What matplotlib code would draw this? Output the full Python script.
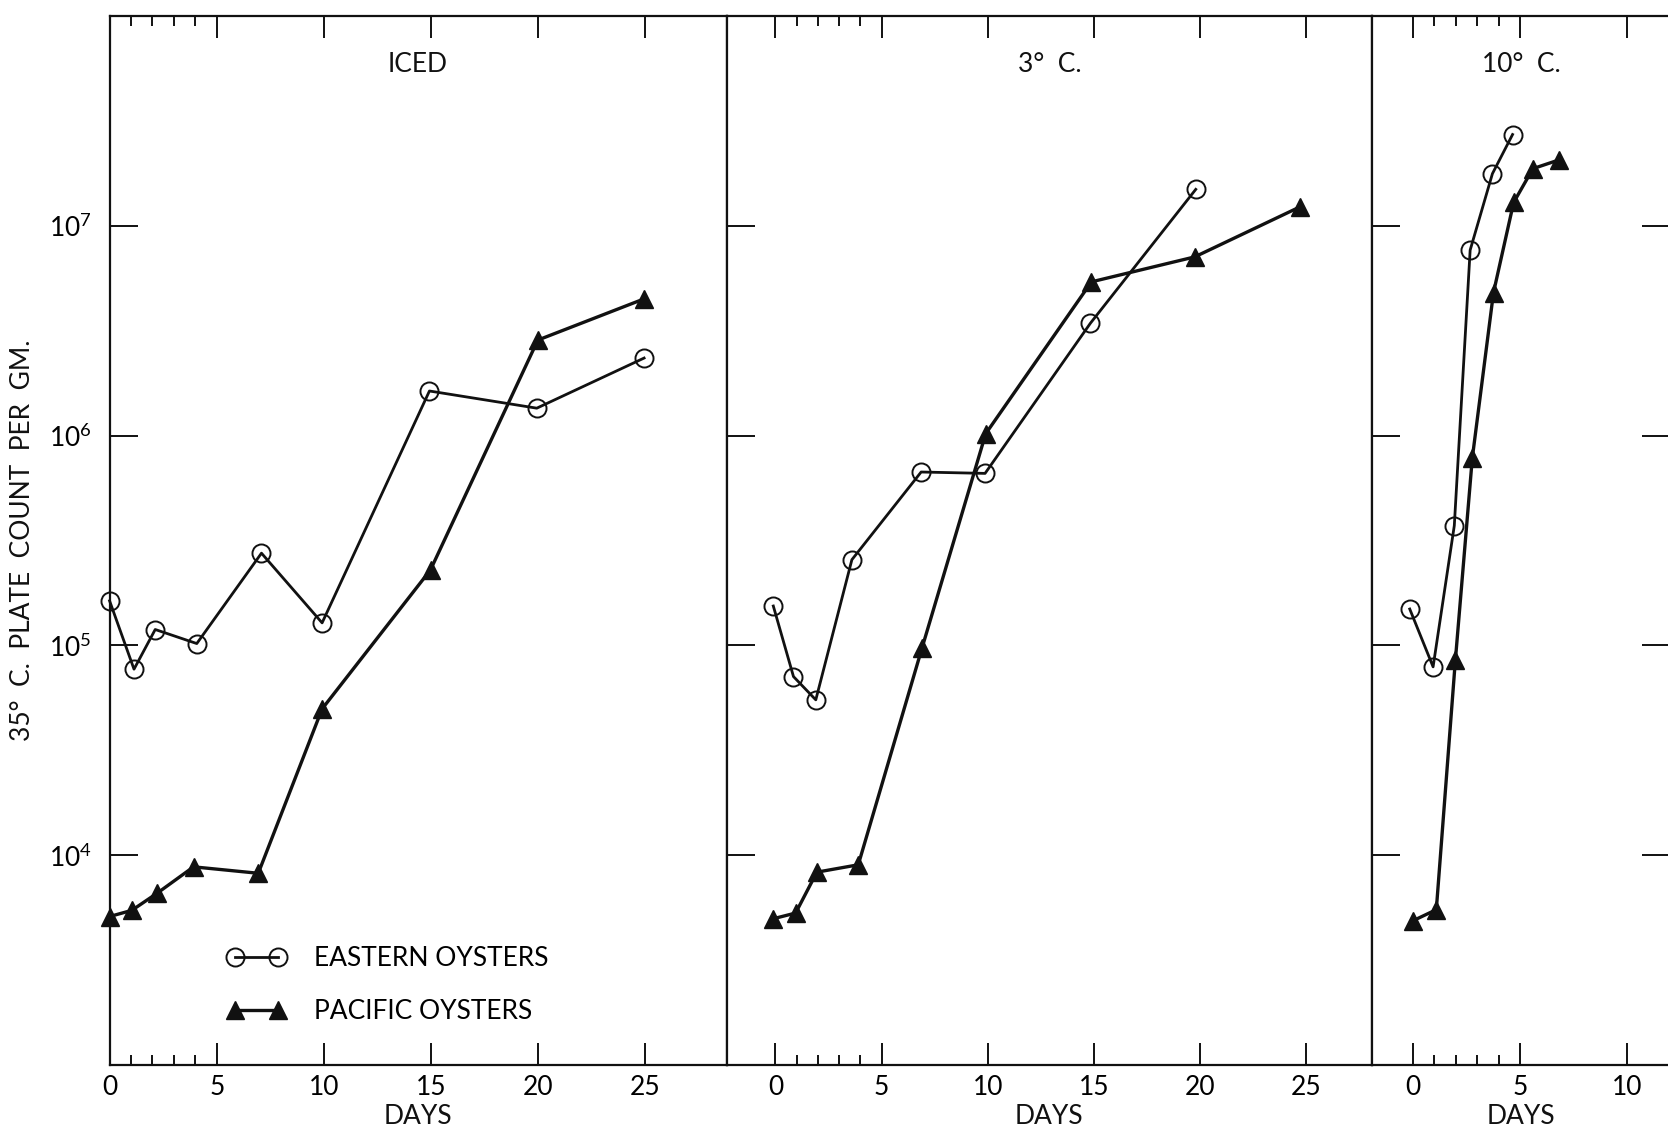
import matplotlib
matplotlib.use("Agg")
import matplotlib.pyplot as plt
from matplotlib.ticker import FixedLocator, FixedFormatter, NullLocator

plt.rcParams['font.family'] = ['Lato', 'DejaVu Sans']
plt.rcParams['mathtext.fontset'] = 'custom'
plt.rcParams['mathtext.rm'] = 'Lato'

# ICED
iced_east_days = [0, 1.14, 2.13, 4.07, 7.09, 9.92, 14.93, 19.94, 24.95]
iced_east = [1.63e5, 7.7e4, 1.19e5, 1.02e5, 2.75e5, 1.28e5, 1.63e6, 1.35e6, 2.34e6]
iced_pac_days = [0, 1.04, 2.23, 3.92, 6.94, 9.92, 14.98, 19.99, 24.95]
iced_pac = [5.1e3, 5.46e3, 6.6e3, 8.8e3, 8.2e3, 4.98e4, 2.29e5, 2.85e6, 4.48e6]

# 3 C
c3_east_days = [-0.1, 0.85, 1.9, 3.6, 6.86, 9.87, 14.83, 19.79]
c3_east = [1.54e5, 7.1e4, 5.5e4, 2.56e5, 6.7e5, 6.6e5, 3.43e6, 1.49e7]
c3_pac_days = [-0.1, 0.95, 1.95, 3.9, 6.9, 9.9, 14.88, 19.74, 24.7]
c3_pac = [4.98e3, 5.3e3, 8.3e3, 9.0e3, 9.7e4, 1.02e6, 5.4e6, 7.1e6, 1.23e7]

# 10 C
c10_east_days = [-0.15, 0.94, 1.93, 2.67, 3.71, 4.65]
c10_east = [1.49e5, 7.9e4, 3.72e5, 7.65e6, 1.77e7, 2.72e7]
c10_pac_days = [0, 1.09, 1.98, 2.77, 3.76, 4.7, 5.6, 6.83]
c10_pac = [4.87e3, 5.5e3, 8.5e4, 7.8e5, 4.8e6, 1.29e7, 1.87e7, 2.06e7]

panel_titles = ['ICED', '3\u00b0  C.', '10\u00b0  C.']
panel_xticks = [[0, 5, 10, 15, 20, 25], [0, 5, 10, 15, 20, 25], [0, 5, 10]]
minor_days = [1, 2, 3, 4]
ytick_vals = [1e4, 1e5, 1e6, 1e7]
ytick_labels = [r'$\mathregular{10^{4}}$', r'$\mathregular{10^{5}}$',
                r'$\mathregular{10^{6}}$', r'$\mathregular{10^{7}}$']

fig = plt.figure(figsize=(16.68, 11.33), dpi=100)
bottom, height = 0.060, 0.926
boxes = [(0.0657, 0.3699), (0.4356, 0.3871), (0.8227, 0.1785)]
xlims = [(0, 28.8), (-2.3, 28.1), (-1.9, 12.0)]
data = [(iced_east_days, iced_east, iced_pac_days, iced_pac),
        (c3_east_days, c3_east, c3_pac_days, c3_pac),
        (c10_east_days, c10_east, c10_pac_days, c10_pac)]

ink = '#111111'
fs = 19
axes = []
for i in range(3):
    ax = fig.add_axes([boxes[i][0], bottom, boxes[i][1], height])
    ed, ev, pd_, pv = data[i]
    ax.plot(ed, ev, '-o', color=ink, lw=2.0, ms=13, mfc='none', mec=ink, mew=1.4,
            label='EASTERN OYSTERS', clip_on=False)
    ax.plot(pd_, pv, '-^', color=ink, lw=2.4, ms=13, mfc=ink, mec=ink,
            label='PACIFIC OYSTERS', clip_on=False)
    ax.set_yscale('log')
    ax.set_ylim(1e3, 1e8)
    ax.set_xlim(*xlims[i])
    ax.yaxis.set_major_locator(FixedLocator(ytick_vals))
    ax.yaxis.set_minor_locator(NullLocator())
    ax.xaxis.set_major_locator(FixedLocator(panel_xticks[i]))
    ax.xaxis.set_minor_locator(FixedLocator(minor_days))
    ax.tick_params(axis='x', which='both', direction='in', top=True, bottom=True,
                   width=1.4, color=ink, labelsize=fs, pad=7)
    ax.tick_params(axis='x', which='major', length=16)
    ax.tick_params(axis='x', which='minor', length=7)
    ax.tick_params(axis='y', which='major', direction='in', length=20, width=1.4,
                   color=ink, left=True, right=(i == 2), labelsize=fs, pad=13)
    if i == 0:
        ax.yaxis.set_major_formatter(FixedFormatter(ytick_labels))
    else:
        ax.tick_params(axis='y', labelleft=False)
    for s in ax.spines.values():
        s.set_linewidth(1.6)
        s.set_color(ink)
    ax.text(0.5, 0.954, panel_titles[i], transform=ax.transAxes, ha='center',
            va='center', fontsize=fs, color=ink)
    ax.set_xlabel('DAYS', fontsize=fs, color=ink, labelpad=3)
    axes.append(ax)

axes[0].set_ylabel('35\u00b0  C.  PLATE  COUNT  PER  GM.', fontsize=fs, color=ink, labelpad=10)
axes[0].legend(loc='center left', bbox_to_anchor=(0.19, 0.076), frameon=False,
               numpoints=2, handlelength=2.25, handletextpad=1.05, labelspacing=1.05,
               fontsize=fs, borderpad=0, borderaxespad=0)

fig.savefig('out.png', dpi=100)
